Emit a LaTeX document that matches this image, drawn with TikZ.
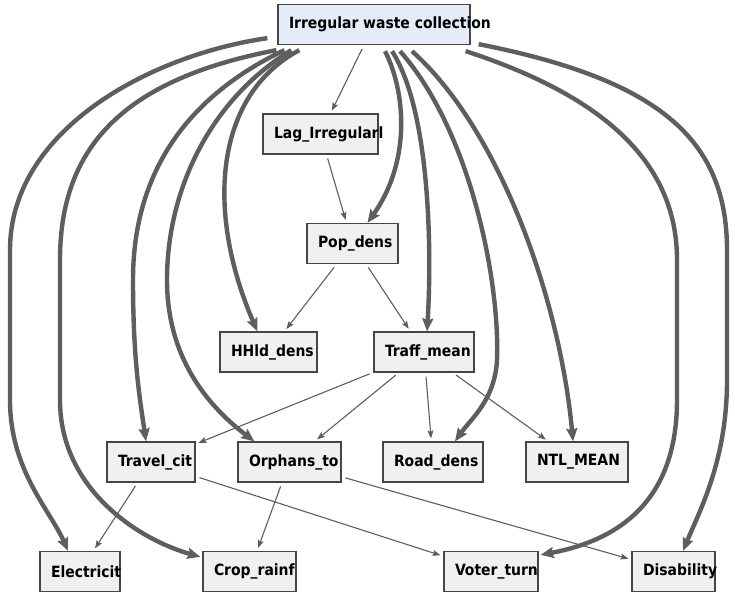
\documentclass[tikz,border=0pt]{standalone}
\usepackage{fontspec}
\newfontfamily\boxfont{DejaVu Sans Condensed}
\usetikzlibrary{arrows.meta,calc}
\definecolor{edgec}{HTML}{5E5E5E}
\definecolor{boxfill}{HTML}{F0F0F0}
\definecolor{rootfill}{HTML}{E4ECF7}
\definecolor{boxdraw}{HTML}{454545}
\tikzset{
  vbox/.style={draw=boxdraw, line width=1.3pt, fill=boxfill, minimum height=40pt,
    inner sep=0pt, text=black, font=\boxfont\bfseries\fontsize{15.5}{17}\selectfont},
  weakedge/.style={draw=edgec, line width=1.1pt, -{Stealth[length=8pt,width=6pt,inset=1.5pt]},
    shorten <=4pt, shorten >=3pt},
  strongedge/.style={draw=edgec, line width=4.4pt, -{Stealth[length=13pt,width=11pt,inset=2pt]}},
}
\newcommand{\lbl}[2]{\makebox[#1][l]{\hspace{11pt}#2}}
\begin{document}
\begin{tikzpicture}[x=1pt,y=-1pt]
\useasboundingbox[fill=white] (0,0) rectangle (735,597);
% nodes
\node[vbox, fill=rootfill, minimum width=192pt] (root) at (374,24.5) {\lbl{192pt}{Irregular waste collection}};
\node[vbox, minimum width=115pt] (lag) at (320.5,134) {\lbl{115pt}{Lag\_Irregularl}};
\node[vbox, minimum width=91pt] (pop) at (352.5,243.5) {\lbl{91pt}{Pop\_dens}};
\node[vbox, minimum width=97pt] (hhld) at (268.5,352) {\lbl{97pt}{HHld\_dens}};
\node[vbox, minimum width=100pt] (traff) at (424,352) {\lbl{100pt}{Traff\_mean}};
\node[vbox, minimum width=88pt] (travel) at (151,462) {\lbl{88pt}{Travel\_cit}};
\node[vbox, minimum width=103pt] (orph) at (289.5,462) {\lbl{103pt}{Orphans\_to}};
\node[vbox, minimum width=100pt] (road) at (433,462) {\lbl{100pt}{Road\_dens}};
\node[vbox, minimum width=102pt] (ntl) at (577,462) {\lbl{102pt}{NTL\_MEAN}};
\node[vbox, minimum width=80pt] (elec) at (80,571.5) {\lbl{80pt}{Electricit}};
\node[vbox, minimum width=93pt] (crop) at (249.5,571.5) {\lbl{93pt}{Crop\_rainf}};
\node[vbox, minimum width=94pt] (voter) at (491,571.5) {\lbl{94pt}{Voter\_turn}};
\node[vbox, minimum width=83pt] (dis) at (673.5,571.5) {\lbl{83pt}{Disability}};
% thin edges
\draw[weakedge] (root) -- (lag);
\draw[weakedge] (lag) -- (pop);
\draw[weakedge] (pop) -- (hhld);
\draw[weakedge] (pop) -- (traff);
\draw[weakedge] (traff) -- (travel);
\draw[weakedge] (traff) -- (orph);
\draw[weakedge] (traff) -- (road);
\draw[weakedge] (traff) -- (ntl);
\draw[weakedge] (travel) -- (elec);
\draw[weakedge] (travel) -- (voter);
\draw[weakedge] (orph) -- (crop);
\draw[weakedge] (orph) -- (dis);
% thick curved edges
\draw[strongedge] ([xshift=-10pt,yshift=7pt]root.south west) .. controls (150,55) and (10,130) .. (10,250)
  -- (10,400) .. controls (10,470) and (50,510) .. ([xshift=-12pt]elec.north);
\draw[strongedge] ([xshift=-1pt,yshift=-5pt]root.south west) .. controls (120,80) and (60,150) .. (60,260)
  -- (60,400) .. controls (60,490) and (140,540) .. ([xshift=-2pt,yshift=-6pt]crop.north west);
\draw[strongedge] ([xshift=7pt,yshift=-5pt]root.south west) .. controls (180,100) and (133,180) .. (133,280)
  .. controls (133,360) and (140,400) .. ([xshift=-5pt]travel.north);
\draw[strongedge] ([xshift=14pt,yshift=-5pt]root.south west) .. controls (210,100) and (167,190) .. (167,280)
  .. controls (167,350) and (200,400) .. ([xshift=17pt]orph.north west);
\draw[strongedge] ([xshift=22pt,yshift=-5pt]root.south west) .. controls (215,95) and (205,210) .. ([xshift=38pt]hhld.north west);
\draw[strongedge] ([xshift=11pt,yshift=-6pt]root.south) .. controls (405,90) and (412,160) .. ([xshift=15pt]pop.north);
\draw[strongedge] ([xshift=18pt,yshift=-6pt]root.south) .. controls (430,110) and (432,250) .. ([xshift=3pt]traff.north);
\draw[strongedge] ([xshift=26pt,yshift=-6pt]root.south) .. controls (470,130) and (500,280) .. (497,360)
  .. controls (495,400) and (470,420) .. ([xshift=22pt]road.north);
\draw[strongedge] ([xshift=38pt,yshift=-6pt]root.south) .. controls (500,130) and (560,300) .. ([xshift=-4pt]ntl.north);
\draw[strongedge] ([xshift=-5pt,yshift=-6pt]root.south east) .. controls (600,95) and (677,160) .. (677,260)
  -- (677,400) .. controls (677,500) and (620,540) .. ([xshift=2pt,yshift=-4pt]voter.north east);
\draw[strongedge] ([xshift=8pt,yshift=1pt]root.south east) .. controls (660,80) and (727,140) .. (727,250)
  -- (727,380) .. controls (727,460) and (700,510) .. ([xshift=9.5pt]dis.north);
\end{tikzpicture}
\end{document}
